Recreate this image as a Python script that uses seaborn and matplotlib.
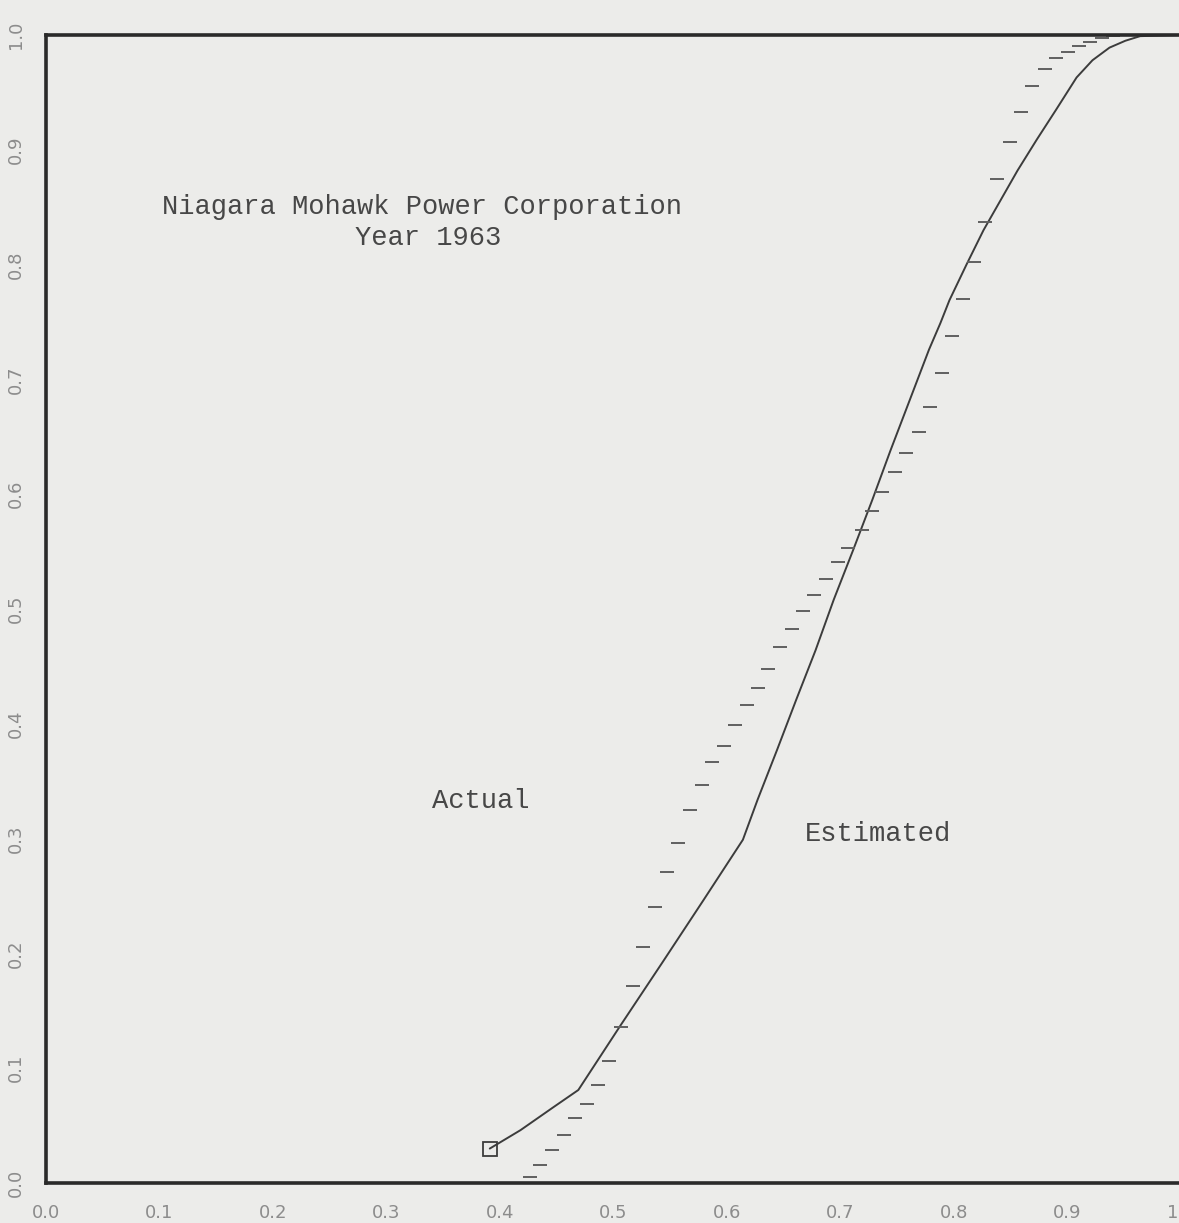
import matplotlib
matplotlib.use("Agg")
import matplotlib.pyplot as plt
import seaborn as sns
import pandas as pd

# Estimated curve (solid line)
est_x = [0.391, 0.418, 0.447, 0.469, 0.506, 0.543, 0.579, 0.614, 0.627, 0.644,
         0.661, 0.678, 0.694, 0.711, 0.728, 0.744, 0.761, 0.778, 0.788, 0.796,
         0.811, 0.826, 0.841, 0.856, 0.873, 0.890, 0.908, 0.922, 0.937, 0.951,
         0.964, 1.0]
est_y = [0.030, 0.046, 0.066, 0.081, 0.137, 0.192, 0.246, 0.299, 0.334, 0.377,
         0.421, 0.464, 0.508, 0.551, 0.595, 0.638, 0.682, 0.726, 0.749, 0.769,
         0.800, 0.830, 0.856, 0.882, 0.909, 0.935, 0.963, 0.978, 0.989, 0.995,
         0.999, 1.000]

# Actual (dash markers)
act_x = [0.426, 0.435, 0.446, 0.456, 0.466, 0.477, 0.486, 0.496, 0.507, 0.517,
         0.526, 0.537, 0.547, 0.557, 0.567, 0.578, 0.587, 0.597, 0.607, 0.618,
         0.627, 0.636, 0.647, 0.657, 0.667, 0.677, 0.687, 0.698, 0.707, 0.719,
         0.728, 0.737, 0.748, 0.758, 0.769, 0.779, 0.789, 0.798, 0.808, 0.818,
         0.827, 0.838, 0.849, 0.859, 0.869, 0.880, 0.890, 0.900, 0.910, 0.920,
         0.930, 0.940]
act_y = [0.005, 0.016, 0.029, 0.042, 0.057, 0.069, 0.085, 0.106, 0.136, 0.172,
         0.206, 0.240, 0.271, 0.296, 0.325, 0.347, 0.367, 0.381, 0.399, 0.416,
         0.431, 0.448, 0.467, 0.483, 0.498, 0.512, 0.526, 0.541, 0.553, 0.569,
         0.585, 0.602, 0.619, 0.636, 0.654, 0.676, 0.706, 0.738, 0.770, 0.802,
         0.837, 0.875, 0.907, 0.933, 0.956, 0.970, 0.980, 0.985, 0.990, 0.994,
         0.997, 0.999]

ticks = [0.0, 0.1, 0.2, 0.3, 0.4, 0.5, 0.6, 0.7, 0.8, 0.9, 1.0]
tick_labels = ["0.0", "0.1", "0.2", "0.3", "0.4", "0.5", "0.6", "0.7", "0.8", "0.9", "1.0"]

title_lines = ["Niagara Mohawk Power Corporation", "Year 1963"]
label_actual = "Actual"
label_est = "Estimated"

sns.set_theme(style="white")
bg = "#ececea"
plt.rcParams["font.family"] = ["DejaVu Sans"]

fig = plt.figure(figsize=(11.79, 12.23), dpi=100, facecolor=bg)
ax = fig.add_axes([46 / 1179, 40 / 1223, 1135 / 1179, 1148 / 1223])
ax.set_facecolor(bg)

est_df = pd.DataFrame({"x": est_x, "y": est_y})
act_df = pd.DataFrame({"x": act_x, "y": act_y})

line_col = "#3c3c3c"
sns.lineplot(data=est_df, x="x", y="y", ax=ax, color=line_col, linewidth=1.4,
             estimator=None, sort=False)
sns.lineplot(data=est_df.iloc[[0]], x="x", y="y", ax=ax, color=line_col,
             marker="s", markersize=10, markerfacecolor="none",
             markeredgecolor=line_col, markeredgewidth=1.3, linestyle="",
             estimator=None, sort=False)
sns.lineplot(data=act_df, x="x", y="y", ax=ax, color="#606060", marker="_",
             markersize=10, markeredgewidth=1.4, markeredgecolor="#606060",
             linestyle="", estimator=None, sort=False)

ax.set_xlim(0, 1)
ax.set_ylim(0, 1)
ax.set_xticks(ticks)
ax.set_xticklabels(tick_labels)
ax.set_yticks(ticks)
ax.set_yticklabels(tick_labels, rotation=90, va="center")
ax.set_xlabel("")
ax.set_ylabel("")
ax.tick_params(axis="both", direction="out", length=6, width=1.2, color="#555555",
               labelsize=13, labelcolor="#8c8c8c")
ax.tick_params(axis="x", pad=9)
ax.tick_params(axis="y", pad=9)
for s in ["left", "bottom", "top", "right"]:
    ax.spines[s].set_visible(True)
    ax.spines[s].set_color("#2a2a2a")
    ax.spines[s].set_linewidth(2.6)

txt_kw = dict(family=["Liberation Mono", "DejaVu Sans Mono"], fontsize=19.5,
              color="#474747", transform=ax.transData)
ax.text(0.331, (1183 - 207) / 1148, title_lines[0], ha="center", va="center", **txt_kw)
ax.text(0.337, (1183 - 238) / 1148, title_lines[1], ha="center", va="center", **txt_kw)
ax.text(0.383, (1183 - 801) / 1148, label_actual, ha="center", va="center", **txt_kw)
ax.text(0.733, (1183 - 834) / 1148, label_est, ha="center", va="center", **txt_kw)

fig.savefig("out.png", dpi=100, facecolor=bg)
